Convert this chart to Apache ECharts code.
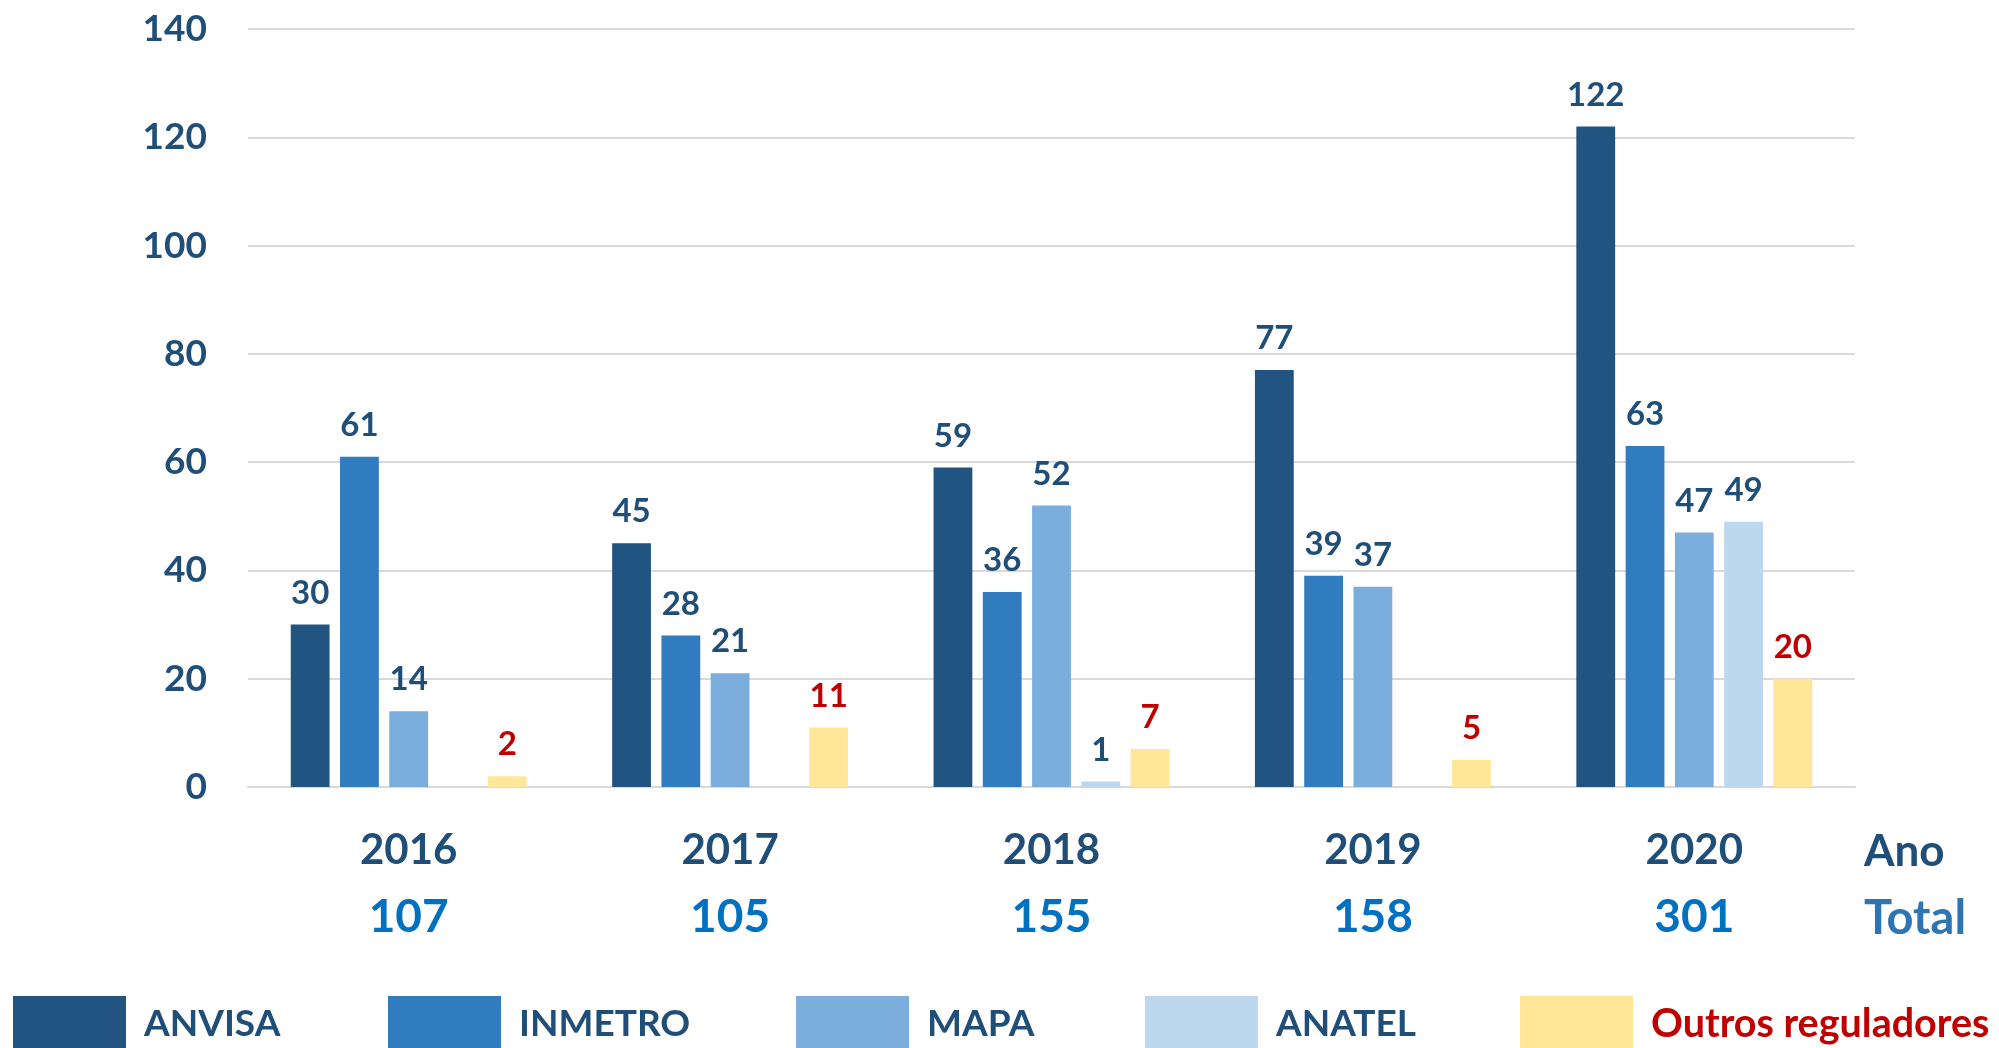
<!DOCTYPE html>
<html>
<head>
<meta charset="utf-8">
<title>Reguladores por ano</title>
<script src="https://cdn.jsdelivr.net/npm/echarts@6/dist/echarts.min.js"></script>
<style>
  html, body { margin: 0; padding: 0; background: #fff; }
  #main { width: 1999px; height: 1048px; }
</style>
</head>
<body>
<div id="main"></div>
<script>
// dados
var anos = ['2016', '2017', '2018', '2019', '2020'];
var totais = [107, 105, 155, 158, 301];
var anvisa = [30, 45, 59, 77, 122];
var inmetro = [61, 28, 36, 39, 63];
var mapa = [14, 21, 52, 37, 47];
var anatel = [null, null, 1, null, 49];
var outros = [2, 11, 7, 5, 20];
var yTicks = [0, 20, 40, 60, 80, 100, 120, 140];

var nomes = ['ANVISA', 'INMETRO', 'MAPA', 'ANATEL', 'Outros reguladores'];
var cores = ['#215480', '#317BBF', '#7BADDD', '#BDD7EE', '#FFE699'];
var valores = [anvisa, inmetro, mapa, anatel, outros];

var fonte = 'Lato';
var azulEscuro = '#1F4E79';
var vermelho = '#C00000';

var myChart = echarts.init(document.getElementById('main'));

var series = nomes.map(function (nome, i) {
  return {
    name: nome,
    type: 'bar',
    data: valores[i],
    barGap: '27%',
    barCategoryGap: '26.6%',
    itemStyle: { color: cores[i] },
    label: {
      show: true,
      position: 'top',
      distance: 15,
      fontFamily: fonte,
      fontWeight: 'bold',
      fontSize: 33,
      color: i === 4 ? vermelho : azulEscuro
    }
  };
});

// uma legenda por item, posicionada à mão
var legendLeft = [13, 388, 796, 1145, 1520];
var legends = nomes.map(function (nome, i) {
  return {
    data: [nome],
    left: legendLeft[i],
    top: 996,
    padding: 0,
    icon: 'rect',
    itemWidth: 113,
    itemHeight: 56,
    selectedMode: false,
    textStyle: {
      fontFamily: fonte,
      fontWeight: 'bold',
      fontSize: i === 4 ? 39.5 : 37,
      color: i === 4 ? vermelho : azulEscuro,
      padding: [0, 0, 0, 13]
    }
  };
});

myChart.setOption({
  animation: false,
  legend: legends,
  grid: {
    left: 248,
    right: 144,
    top: 29,
    bottom: 261
  },
  xAxis: {
    type: 'category',
    data: anos,
    axisTick: { show: false },
    axisLine: { lineStyle: { color: '#D9D9D9', width: 2 } },
    axisLabel: {
      margin: 30,
      formatter: function (v, idx) {
        return '{y|' + v + '}\n{t|' + totais[idx] + '}';
      },
      rich: {
        y: { fontFamily: fonte, fontWeight: 'bold', fontSize: 42, color: azulEscuro, lineHeight: 67 },
        t: { fontFamily: fonte, fontWeight: 'bold', fontSize: 46, color: '#0070C0', lineHeight: 67 }
      }
    },
    name: '{a|Ano}\n{b|Total}',
    nameLocation: 'end',
    nameGap: 9,
    nameTextStyle: {
      align: 'left',
      verticalAlign: 'top',
      padding: [31, 0, 0, 0],
      rich: {
        a: { fontFamily: fonte, fontWeight: 'bold', fontSize: 44, color: azulEscuro, lineHeight: 67 },
        b: { fontFamily: fonte, fontWeight: 'bold', fontSize: 47, color: '#2E75B6', lineHeight: 67 }
      }
    }
  },
  yAxis: {
    type: 'value',
    min: yTicks[0],
    max: yTicks[yTicks.length - 1],
    interval: 20,
    axisLine: { show: false },
    axisTick: { show: false },
    splitLine: { lineStyle: { color: '#D9D9D9', width: 2 } },
    axisLabel: {
      margin: 41,
      fontFamily: fonte,
      fontWeight: 'bold',
      fontSize: 37,
      color: azulEscuro
    }
  },
  series: series
});
</script>
</body>
</html>
